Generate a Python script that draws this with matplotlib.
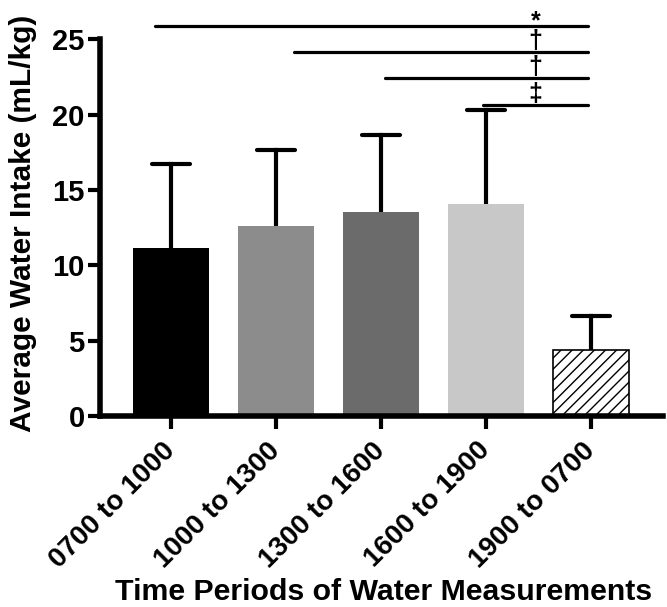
import matplotlib
matplotlib.use("Agg")
import matplotlib.pyplot as plt
import numpy as np

plt.rcParams['font.family'] = ['Liberation Sans', 'DejaVu Sans']
plt.rcParams['font.weight'] = 'bold'
plt.rcParams['hatch.linewidth'] = 1.0

categories = ["0700 to 1000", "1000 to 1300", "1300 to 1600", "1600 to 1900", "1900 to 0700"]
means = [11.13, 12.58, 13.51, 14.10, 4.39]
sds = [5.62, 5.10, 5.17, 6.23, 2.25]
bar_colors = ["#000000", "#8c8c8c", "#6b6b6b", "#c8c8c8", "#ffffff"]

sig_starts = [-0.15, 1.17, 2.04, 2.97]
sig_ends = [3.97, 3.97, 3.97, 3.97]
sig_levels = [25.9, 24.15, 22.43, 20.64]
sig_labels = ["*", "\u2020", "\u2020", "\u2021"]

fig = plt.figure(figsize=(6.67, 6.07), dpi=100)
ax = fig.add_axes([0.15, 0.3147, 0.844, 0.6206])

x = np.arange(len(categories))
cap_half = 0.18
for i in range(len(categories)):
    hatch = '///' if i == 4 else None
    ec = 'black' if i == 4 else bar_colors[i]
    lw = 1.2 if i == 4 else 0
    ax.bar(x[i], means[i], width=0.72, color=bar_colors[i], edgecolor=ec,
           linewidth=lw, hatch=hatch, zorder=2)
    top = means[i] + sds[i]
    ax.plot([x[i], x[i]], [means[i], top], color='black', lw=3, zorder=1)
    ax.plot([x[i] - cap_half, x[i] + cap_half], [top, top], color='black', lw=3,
            solid_capstyle='round', zorder=1)

for s, e, lev, lab in zip(sig_starts, sig_ends, sig_levels, sig_labels):
    ax.plot([s, e], [lev, lev], color='black', lw=2.3, solid_capstyle='round', clip_on=False)
    ax.annotate(lab, xy=(3.47, lev), xytext=(0, 3 if lab == "*" else 8),
                textcoords='offset points', ha='center', va='center', fontsize=18,
                fontweight='bold', annotation_clip=False)

ax.set_xlim(-0.676, 4.686)
ax.set_ylim(0, 25)
ax.set_yticks([0, 5, 10, 15, 20, 25])
ax.set_xticks(x)
ax.set_xticklabels(categories, rotation=45, ha='right', va='center', rotation_mode='anchor')
ax.tick_params(axis='both', labelsize=20, width=3, length=9)
ax.tick_params(axis='y', pad=2, labelsize=21)
ax.tick_params(axis='x', pad=13)
for sp in ['top', 'right']:
    ax.spines[sp].set_visible(False)
for sp in ['left', 'bottom']:
    ax.spines[sp].set_linewidth(4)
ax.set_ylabel("Average Water Intake (mL/kg)", fontsize=21.5, fontweight='bold')
ax.yaxis.set_label_coords(-0.112, 0.51)
ax.set_xlabel("Time Periods of Water Measurements", fontsize=21.8, fontweight='bold',
              va='baseline')
ax.xaxis.set_label_coords(0.5036, -0.4885)

fig.savefig("out.png", dpi=100)
